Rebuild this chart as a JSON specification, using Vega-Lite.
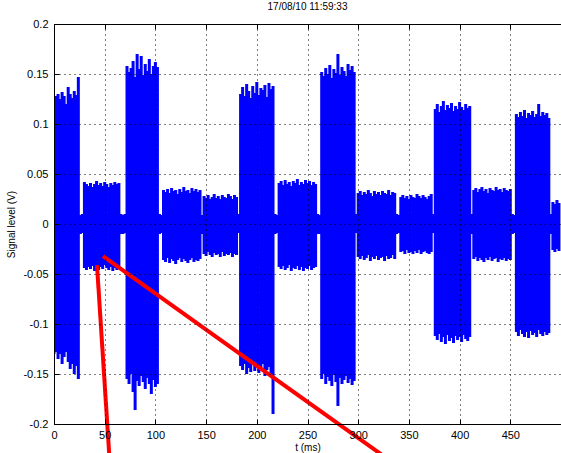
{
"$schema": "https://vega.github.io/schema/vega-lite/v6.json",
"width": 507, "height": 400,
"autosize": {"type": "none"},
"padding": {"left": 54, "top": 24, "right": 0, "bottom": 29},
"background": "white",
"title": {"text": "17/08/10 11:59:33", "font": "Liberation Sans", "fontSize": 10, "fontWeight": "normal", "color": "#000", "offset": 6},
"config": {"view": {"stroke": "#000", "strokeWidth": 1}},
"resolve": {"axis": {"x": "independent", "y": "independent"}},
"layer": [
{
"data": {"values": [
{"t":0,"lo":-0.13,"hi":0.122},{"t":2,"lo":-0.128,"hi":0.128},{"t":4,"lo":-0.135,"hi":0.13},{"t":6,"lo":-0.13,"hi":0.125},{"t":8,"lo":-0.14,"hi":0.132},{"t":10,"lo":-0.133,"hi":0.128},{"t":12,"lo":-0.128,"hi":0.12},{"t":14,"lo":-0.138,"hi":0.137},{"t":16,"lo":-0.145,"hi":0.13},{"t":18,"lo":-0.14,"hi":0.126},{"t":20,"lo":-0.15,"hi":0.133},{"t":22,"lo":-0.142,"hi":0.129},{"t":24,"lo":-0.155,"hi":0.147},
{"t":26,"lo":-0.01,"hi":0.009},{"t":28,"lo":-0.009,"hi":0.01},
{"t":30,"lo":-0.044,"hi":0.042},{"t":32,"lo":-0.046,"hi":0.04},{"t":34,"lo":-0.043,"hi":0.038},{"t":36,"lo":-0.045,"hi":0.041},{"t":38,"lo":-0.042,"hi":0.037},{"t":40,"lo":-0.047,"hi":0.04},{"t":42,"lo":-0.044,"hi":0.043},{"t":44,"lo":-0.046,"hi":0.039},{"t":46,"lo":-0.043,"hi":0.041},{"t":48,"lo":-0.045,"hi":0.038},{"t":50,"lo":-0.041,"hi":0.042},{"t":52,"lo":-0.044,"hi":0.04},{"t":54,"lo":-0.046,"hi":0.037},{"t":56,"lo":-0.043,"hi":0.041},{"t":58,"lo":-0.047,"hi":0.039},{"t":60,"lo":-0.044,"hi":0.042},{"t":62,"lo":-0.046,"hi":0.04},{"t":64,"lo":-0.045,"hi":0.041},
{"t":66,"lo":-0.01,"hi":0.01},{"t":68,"lo":-0.01,"hi":0.009},{"t":70,"lo":-0.009,"hi":0.01},
{"t":72,"lo":-0.155,"hi":0.158},{"t":74,"lo":-0.16,"hi":0.152},{"t":76,"lo":-0.15,"hi":0.156},{"t":78,"lo":-0.168,"hi":0.163},{"t":80,"lo":-0.186,"hi":0.147},{"t":82,"lo":-0.157,"hi":0.17},{"t":84,"lo":-0.162,"hi":0.155},{"t":86,"lo":-0.152,"hi":0.168},{"t":88,"lo":-0.158,"hi":0.149},{"t":90,"lo":-0.165,"hi":0.16},{"t":92,"lo":-0.154,"hi":0.153},{"t":94,"lo":-0.16,"hi":0.165},{"t":96,"lo":-0.17,"hi":0.15},{"t":98,"lo":-0.156,"hi":0.158},{"t":100,"lo":-0.163,"hi":0.162},{"t":102,"lo":-0.16,"hi":0.157},
{"t":104,"lo":-0.01,"hi":0.01},{"t":106,"lo":-0.009,"hi":0.009},
{"t":108,"lo":-0.036,"hi":0.034},{"t":110,"lo":-0.038,"hi":0.032},{"t":112,"lo":-0.034,"hi":0.035},{"t":114,"lo":-0.039,"hi":0.031},{"t":116,"lo":-0.035,"hi":0.036},{"t":118,"lo":-0.037,"hi":0.033},{"t":120,"lo":-0.04,"hi":0.034},{"t":122,"lo":-0.036,"hi":0.03},{"t":124,"lo":-0.034,"hi":0.035},{"t":126,"lo":-0.038,"hi":0.032},{"t":128,"lo":-0.035,"hi":0.037},{"t":130,"lo":-0.037,"hi":0.033},{"t":132,"lo":-0.039,"hi":0.034},{"t":134,"lo":-0.036,"hi":0.031},{"t":136,"lo":-0.034,"hi":0.036},{"t":138,"lo":-0.038,"hi":0.033},{"t":140,"lo":-0.036,"hi":0.035},{"t":142,"lo":-0.037,"hi":0.032},{"t":144,"lo":-0.035,"hi":0.034},
{"t":146,"lo":-0.01,"hi":0.009},
{"t":148,"lo":-0.03,"hi":0.028},{"t":150,"lo":-0.032,"hi":0.026},{"t":152,"lo":-0.028,"hi":0.029},{"t":154,"lo":-0.031,"hi":0.025},{"t":156,"lo":-0.033,"hi":0.027},{"t":158,"lo":-0.029,"hi":0.03},{"t":160,"lo":-0.031,"hi":0.026},{"t":162,"lo":-0.03,"hi":0.028},{"t":164,"lo":-0.033,"hi":0.025},{"t":166,"lo":-0.028,"hi":0.029},{"t":168,"lo":-0.032,"hi":0.027},{"t":170,"lo":-0.03,"hi":0.026},{"t":172,"lo":-0.031,"hi":0.03},{"t":174,"lo":-0.029,"hi":0.028},{"t":176,"lo":-0.033,"hi":0.025},{"t":178,"lo":-0.03,"hi":0.029},{"t":180,"lo":-0.031,"hi":0.027},
{"t":182,"lo":-0.009,"hi":0.01},
{"t":184,"lo":-0.142,"hi":0.13},{"t":186,"lo":-0.146,"hi":0.137},{"t":188,"lo":-0.14,"hi":0.128},{"t":190,"lo":-0.15,"hi":0.14},{"t":192,"lo":-0.144,"hi":0.133},{"t":194,"lo":-0.148,"hi":0.126},{"t":196,"lo":-0.141,"hi":0.138},{"t":198,"lo":-0.147,"hi":0.131},{"t":200,"lo":-0.143,"hi":0.142},{"t":202,"lo":-0.149,"hi":0.129},{"t":204,"lo":-0.145,"hi":0.136},{"t":206,"lo":-0.14,"hi":0.134},{"t":208,"lo":-0.152,"hi":0.139},{"t":210,"lo":-0.146,"hi":0.127},{"t":212,"lo":-0.143,"hi":0.141},{"t":214,"lo":-0.15,"hi":0.135},{"t":216,"lo":-0.19,"hi":0.138},
{"t":218,"lo":-0.01,"hi":0.01},{"t":220,"lo":-0.009,"hi":0.009},
{"t":222,"lo":-0.043,"hi":0.041},{"t":224,"lo":-0.045,"hi":0.043},{"t":226,"lo":-0.042,"hi":0.039},{"t":228,"lo":-0.046,"hi":0.044},{"t":230,"lo":-0.044,"hi":0.04},{"t":232,"lo":-0.041,"hi":0.042},{"t":234,"lo":-0.047,"hi":0.038},{"t":236,"lo":-0.044,"hi":0.043},{"t":238,"lo":-0.045,"hi":0.041},{"t":240,"lo":-0.042,"hi":0.045},{"t":242,"lo":-0.046,"hi":0.039},{"t":244,"lo":-0.043,"hi":0.042},{"t":246,"lo":-0.047,"hi":0.04},{"t":248,"lo":-0.044,"hi":0.044},{"t":250,"lo":-0.045,"hi":0.041},{"t":252,"lo":-0.042,"hi":0.043},{"t":254,"lo":-0.046,"hi":0.039},{"t":256,"lo":-0.044,"hi":0.042},{"t":258,"lo":-0.043,"hi":0.04},
{"t":260,"lo":-0.01,"hi":0.01},{"t":262,"lo":-0.01,"hi":0.009},
{"t":264,"lo":-0.155,"hi":0.152},{"t":266,"lo":-0.15,"hi":0.148},{"t":268,"lo":-0.16,"hi":0.156},{"t":270,"lo":-0.153,"hi":0.15},{"t":272,"lo":-0.157,"hi":0.159},{"t":274,"lo":-0.162,"hi":0.146},{"t":276,"lo":-0.151,"hi":0.155},{"t":278,"lo":-0.158,"hi":0.151},{"t":280,"lo":-0.182,"hi":0.17},{"t":282,"lo":-0.154,"hi":0.149},{"t":284,"lo":-0.16,"hi":0.157},{"t":286,"lo":-0.156,"hi":0.153},{"t":288,"lo":-0.152,"hi":0.148},{"t":290,"lo":-0.159,"hi":0.16},{"t":292,"lo":-0.155,"hi":0.154},{"t":294,"lo":-0.161,"hi":0.158},{"t":296,"lo":-0.157,"hi":0.152},
{"t":298,"lo":-0.009,"hi":0.01},
{"t":300,"lo":-0.033,"hi":0.031},{"t":302,"lo":-0.035,"hi":0.033},{"t":304,"lo":-0.032,"hi":0.029},{"t":306,"lo":-0.036,"hi":0.032},{"t":308,"lo":-0.034,"hi":0.03},{"t":310,"lo":-0.031,"hi":0.034},{"t":312,"lo":-0.037,"hi":0.031},{"t":314,"lo":-0.033,"hi":0.028},{"t":316,"lo":-0.035,"hi":0.033},{"t":318,"lo":-0.032,"hi":0.03},{"t":320,"lo":-0.036,"hi":0.032},{"t":322,"lo":-0.034,"hi":0.029},{"t":324,"lo":-0.033,"hi":0.033},{"t":326,"lo":-0.037,"hi":0.031},{"t":328,"lo":-0.032,"hi":0.03},{"t":330,"lo":-0.035,"hi":0.034},{"t":332,"lo":-0.034,"hi":0.029},{"t":334,"lo":-0.031,"hi":0.032},{"t":336,"lo":-0.035,"hi":0.031},
{"t":338,"lo":-0.01,"hi":0.01},{"t":340,"lo":-0.009,"hi":0.009},
{"t":342,"lo":-0.028,"hi":0.027},{"t":344,"lo":-0.027,"hi":0.029},{"t":346,"lo":-0.03,"hi":0.026},{"t":348,"lo":-0.026,"hi":0.028},{"t":350,"lo":-0.029,"hi":0.025},{"t":352,"lo":-0.028,"hi":0.029},{"t":354,"lo":-0.03,"hi":0.027},{"t":356,"lo":-0.027,"hi":0.026},{"t":358,"lo":-0.029,"hi":0.03},{"t":360,"lo":-0.026,"hi":0.028},{"t":362,"lo":-0.03,"hi":0.026},{"t":364,"lo":-0.028,"hi":0.029},{"t":366,"lo":-0.027,"hi":0.027},{"t":368,"lo":-0.029,"hi":0.025},{"t":370,"lo":-0.03,"hi":0.028},{"t":372,"lo":-0.028,"hi":0.03},
{"t":374,"lo":-0.009,"hi":0.01},
{"t":376,"lo":-0.112,"hi":0.115},{"t":378,"lo":-0.116,"hi":0.12},{"t":380,"lo":-0.11,"hi":0.112},{"t":382,"lo":-0.118,"hi":0.118},{"t":384,"lo":-0.113,"hi":0.123},{"t":386,"lo":-0.12,"hi":0.114},{"t":388,"lo":-0.111,"hi":0.119},{"t":390,"lo":-0.117,"hi":0.116},{"t":392,"lo":-0.114,"hi":0.121},{"t":394,"lo":-0.119,"hi":0.113},{"t":396,"lo":-0.112,"hi":0.118},{"t":398,"lo":-0.116,"hi":0.115},{"t":400,"lo":-0.113,"hi":0.122},{"t":402,"lo":-0.118,"hi":0.117},{"t":404,"lo":-0.111,"hi":0.114},{"t":406,"lo":-0.115,"hi":0.12},{"t":408,"lo":-0.117,"hi":0.116},{"t":410,"lo":-0.113,"hi":0.118},
{"t":412,"lo":-0.01,"hi":0.01},
{"t":414,"lo":-0.035,"hi":0.034},{"t":416,"lo":-0.033,"hi":0.036},{"t":418,"lo":-0.037,"hi":0.032},{"t":420,"lo":-0.034,"hi":0.035},{"t":422,"lo":-0.036,"hi":0.037},{"t":424,"lo":-0.038,"hi":0.033},{"t":426,"lo":-0.034,"hi":0.035},{"t":428,"lo":-0.036,"hi":0.031},{"t":430,"lo":-0.033,"hi":0.036},{"t":432,"lo":-0.037,"hi":0.034},{"t":434,"lo":-0.035,"hi":0.033},{"t":436,"lo":-0.034,"hi":0.037},{"t":438,"lo":-0.038,"hi":0.034},{"t":440,"lo":-0.035,"hi":0.035},{"t":442,"lo":-0.036,"hi":0.032},{"t":444,"lo":-0.034,"hi":0.036},{"t":446,"lo":-0.037,"hi":0.034},{"t":448,"lo":-0.035,"hi":0.033},{"t":450,"lo":-0.036,"hi":0.035},
{"t":452,"lo":-0.01,"hi":0.01},{"t":454,"lo":-0.009,"hi":0.009},
{"t":456,"lo":-0.108,"hi":0.11},{"t":458,"lo":-0.112,"hi":0.107},{"t":460,"lo":-0.106,"hi":0.112},{"t":462,"lo":-0.11,"hi":0.108},{"t":464,"lo":-0.113,"hi":0.114},{"t":466,"lo":-0.108,"hi":0.106},{"t":468,"lo":-0.114,"hi":0.111},{"t":470,"lo":-0.107,"hi":0.109},{"t":472,"lo":-0.111,"hi":0.113},{"t":474,"lo":-0.109,"hi":0.107},{"t":476,"lo":-0.113,"hi":0.11},{"t":478,"lo":-0.106,"hi":0.12},{"t":480,"lo":-0.11,"hi":0.108},{"t":482,"lo":-0.112,"hi":0.112},{"t":484,"lo":-0.108,"hi":0.109},{"t":486,"lo":-0.111,"hi":0.111},{"t":488,"lo":-0.109,"hi":0.106},
{"t":490,"lo":-0.01,"hi":0.01},
{"t":492,"lo":-0.026,"hi":0.022},{"t":494,"lo":-0.028,"hi":0.02},{"t":496,"lo":-0.025,"hi":0.024},{"t":498,"lo":-0.027,"hi":0.021}
]},
"mark": {"type": "rule", "color": "#0000ff", "strokeWidth": 3, "clip": true},
"encoding": {
"x": {"field": "t", "type": "quantitative", "scale": {"domain": [0, 500], "nice": false, "zero": false},
"axis": {"orient": "bottom", "values": [0,50,100,150,200,250,300,350,400,450], "grid": true, "gridColor": "#000", "gridDash": [1, 4], "gridOpacity": 1, "gridWidth": 1,
"tickSize": -5, "tickColor": "#000", "domainColor": "#000", "labelFlush": false, "labelFont": "Liberation Sans", "labelFontSize": 11, "labelColor": "#000", "labelPadding": 10,
"title": "t (ms)", "titleFont": "Liberation Sans", "titleFontSize": 10, "titleFontWeight": "normal", "titleColor": "#000", "titlePadding": 2, "zindex": 1}},
"y": {"field": "lo", "type": "quantitative", "scale": {"domain": [-0.2, 0.2], "nice": false, "zero": false},
"axis": {"values": [-0.2,-0.15,-0.1,-0.05,0,0.05,0.1,0.15,0.2], "labelExpr": "'' + datum.value", "grid": true, "gridColor": "#000", "gridDash": [1, 4], "gridOpacity": 1, "gridWidth": 1,
"tickSize": -5, "tickColor": "#000", "domainColor": "#000", "labelFont": "Liberation Sans", "labelFontSize": 11, "labelColor": "#000", "labelPadding": 11,
"title": "Signal level (V)", "titleFont": "Liberation Sans", "titleFontSize": 10, "titleFontWeight": "normal", "titleColor": "#000", "titlePadding": 6, "zindex": 1}},
"y2": {"field": "hi"}
}
},
{
"data": {"values": [
{"id": 1, "k": 1, "t": 48.3, "v": -0.0322},
{"id": 1, "k": 2, "t": 334, "v": -0.2385},
{"id": 2, "k": 1, "t": 42.4, "v": -0.0412},
{"id": 2, "k": 2, "t": 55, "v": -0.2385}
]},
"mark": {"type": "line", "color": "#ff0000", "strokeWidth": 4, "clip": false},
"encoding": {
"x": {"field": "t", "type": "quantitative", "scale": {"domain": [0, 500], "nice": false, "zero": false},
"axis": {"orient": "top", "values": [0,50,100,150,200,250,300,350,400,450], "labels": false, "grid": false, "domain": false, "tickSize": -5, "tickColor": "#000", "title": null, "zindex": 1}},
"y": {"field": "v", "type": "quantitative", "scale": {"domain": [-0.2, 0.2], "nice": false, "zero": false}, "axis": null},
"detail": {"field": "id"},
"order": {"field": "k"}
}
}
]
}
